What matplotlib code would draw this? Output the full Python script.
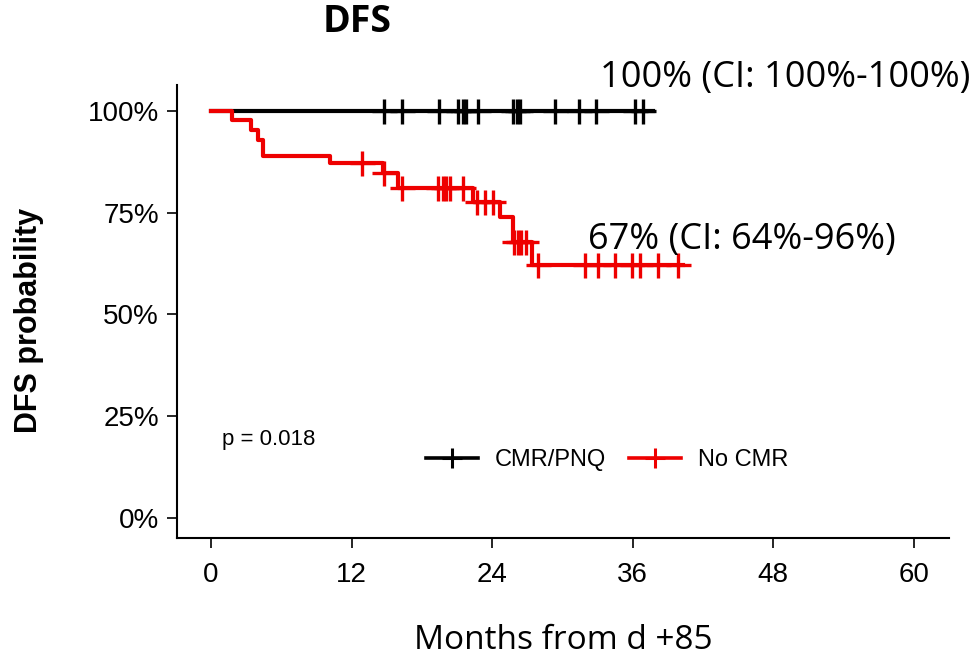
import numpy as np
import matplotlib
matplotlib.use("Agg")
import matplotlib.pyplot as plt

# step function of the "No CMR" curve (months, survival %)
red_step_t = [0, 1.8, 3.4, 4.0, 4.4, 10.2, 14.7, 16.0, 22.4, 24.7, 25.8, 27.4, 40.3]
red_step_s = [100, 97.6, 95.2, 92.9, 88.9, 87.1, 84.8, 81.1, 77.6, 74.0, 67.8, 62.2, 62.2]
red_cens = [12.9, 14.8, 16.3, 19.4, 19.8, 20.1, 20.4, 21.5, 22.7, 23.4, 24.1,
            25.9, 26.2, 26.5, 26.9, 27.9, 31.9, 33.0, 34.5, 35.9, 36.6, 38.2, 39.9]

# "CMR/PNQ" curve stays at 100%
black_step_t = [0, 37.7]
black_step_s = [100, 100]
black_cens = [14.8, 16.3, 19.5, 21.1, 21.5, 21.8, 22.8, 25.8, 26.1, 26.4,
              29.4, 31.4, 32.9, 36.2, 36.9]

xticks = [0, 12, 24, 36, 48, 60]
yticks = [0, 25, 50, 75, 100]
ytick_labels = ["0%", "25%", "50%", "75%", "100%"]

arial = ["Liberation Sans", "DejaVu Sans"]
calib = ["Open Sans", "DejaVu Sans"]

red = "#ee0000"
black = "#000000"


def surv_at(times, st, ss):
    idx = np.searchsorted(st, times, side="right") - 1
    return np.array(ss)[idx]


fig = plt.figure(figsize=(9.78, 6.62), dpi=100)
ax = fig.add_axes([177 / 978, 1 - 538 / 662, 772 / 978, 453 / 662])

ax.step(black_step_t, black_step_s, where="post", color=black, lw=3, zorder=2)
ax.plot(black_cens, surv_at(black_cens, black_step_t, black_step_s), ls="none",
        marker="+", ms=18, mew=2.4, color=black, zorder=2)
ax.step(red_step_t, red_step_s, where="post", color=red, lw=3, zorder=3)
ax.plot(red_cens, surv_at(red_cens, red_step_t, red_step_s), ls="none",
        marker="+", ms=18, mew=2.4, color=red, zorder=3)

# legend handles
ax.plot([], [], color=black, lw=2.6, marker="+", ms=14, mew=2.2, label="CMR/PNQ")
ax.plot([], [], color=red, lw=2.6, marker="+", ms=14, mew=2.2, label="No CMR")
ax.legend(loc="center", bbox_to_anchor=(0.557, 0.172), ncol=2, frameon=False,
          handlelength=2.2, handletextpad=0.7, columnspacing=1.0,
          prop={"family": arial, "size": 17})

ax.set_xlim(-2.9, 63.0)
ax.set_ylim(-4.9, 106.3)
ax.set_xticks(xticks)
ax.set_yticks(yticks)
ax.set_yticklabels(ytick_labels)
for lab in ax.get_xticklabels() + ax.get_yticklabels():
    lab.set_family(arial)
    lab.set_fontsize(20)
ax.tick_params(length=7, width=1.2)
ax.tick_params(axis="x", pad=10)
ax.tick_params(axis="y", pad=6)

ax.spines["top"].set_visible(False)
ax.spines["right"].set_visible(False)
ax.spines["left"].set_linewidth(1.5)
ax.spines["bottom"].set_linewidth(1.5)

ax.text(0.9, 19.2, "p = 0.018", family=arial, fontsize=16, va="center", ha="left")

ax.set_ylabel("DFS probability", fontsize=22, fontweight="bold", family=arial)
ax.yaxis.set_label_coords(-0.172, 0.48)

ax.set_xlabel("Months from d +85", fontsize=24, family=calib)
ax.xaxis.set_label_coords(0.5, -0.19)

ax.set_title("DFS", x=0.233, y=(538 - 30) / 453, va="center", fontsize=27,
             fontweight="bold", family=calib)

ax.text(33.2, 108.1, "100% (CI: 100%-100%)", fontsize=26, family=calib,
        va="center", ha="left", clip_on=False)
ax.text(32.2, 68.3, "67% (CI: 64%-96%)", fontsize=26, family=calib,
        va="center", ha="left", clip_on=False)

fig.savefig("out.png", dpi=100)
